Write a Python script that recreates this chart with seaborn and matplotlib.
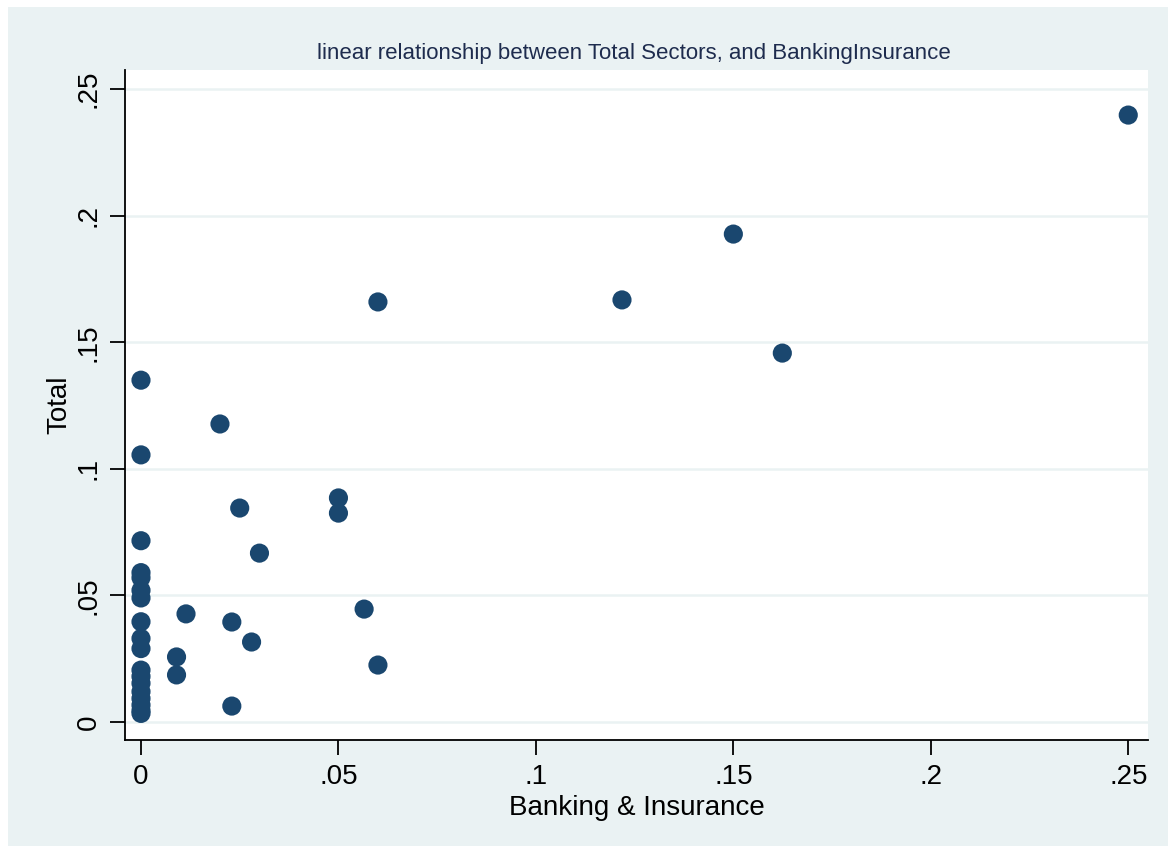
import matplotlib
matplotlib.use("Agg")
import matplotlib.pyplot as plt
from matplotlib import font_manager
from matplotlib.patches import Rectangle
import seaborn as sns
import pandas as pd

banking = [0, 0, 0, 0, 0, 0, 0, 0, 0, 0, 0, 0, 0, 0, 0, 0, 0, 0,
           0.009, 0.009, 0.0114, 0.020, 0.023, 0.023, 0.025, 0.028, 0.030,
           0.050, 0.050, 0.0565, 0.060, 0.060, 0.1218, 0.150, 0.1624, 0.250]
total = [0.135, 0.1055, 0.0716, 0.059, 0.057, 0.052, 0.049, 0.0396, 0.033, 0.029,
         0.0205, 0.018, 0.0153, 0.012, 0.0093, 0.0067, 0.0045, 0.0034,
         0.0257, 0.0186, 0.0427, 0.1177, 0.0395, 0.0063, 0.0845, 0.0316, 0.0667,
         0.0885, 0.0825, 0.0446, 0.0225, 0.1659, 0.1667, 0.1927, 0.1457, 0.2397]
ticks = [0, 0.05, 0.10, 0.15, 0.20, 0.25]
tick_labels = ["0", ".05", ".1", ".15", ".2", ".25"]

df = pd.DataFrame({"Banking & Insurance": banking, "Total": total})

sns.set_style("white")
names = {f.name for f in font_manager.fontManager.ttflist}
fam = "Liberation Sans Narrow" if "Liberation Sans Narrow" in names else "Liberation Sans"
plt.rcParams["font.family"] = [fam, "DejaVu Sans"]

bg = "#eaf2f3"
navy = "#1a476f"

fig = plt.figure(figsize=(11.73, 8.52), dpi=100)
fig.patch.set_facecolor("white")
fig.patches.append(Rectangle((8 / 1173, 1 - 846 / 852), (1168 - 8) / 1173, (846 - 7) / 852,
                             transform=fig.transFigure, facecolor=bg, edgecolor="none", zorder=-10))
ax = fig.add_axes([125 / 1173, 1 - 740 / 852, (1148 - 125) / 1173, (740 - 70) / 852])
ax.set_facecolor("white")

for t in ticks:
    ax.axhline(t, color=bg, lw=1.8, zorder=0)

sns.scatterplot(data=df, x="Banking & Insurance", y="Total", ax=ax, color=navy,
                s=190, edgecolor="none", zorder=3, legend=False)

ax.set_xlim(-0.00405, 0.2550)
ax.set_ylim(-0.0071, 0.2575)
ax.set_xticks(ticks)
ax.set_xticklabels(tick_labels)
ax.set_yticks(ticks)
ax.set_yticklabels(tick_labels, rotation=90, va="center")
for s in ["top", "right"]:
    ax.spines[s].set_visible(False)
for s in ["left", "bottom"]:
    ax.spines[s].set_color("black")
    ax.spines[s].set_linewidth(1.3)
ax.tick_params(axis="both", bottom=True, left=True, direction="out", length=11, width=1.3,
               color="black", labelsize=20, pad=6, labelcolor="black")
ax.set_xlabel("Banking & Insurance", fontsize=20, labelpad=4, color="black")
ax.set_ylabel("Total", fontsize=20, labelpad=2, color="black")
fig.text(634 / 1173, 1 - 53 / 852, "linear relationship between Total Sectors, and BankingInsurance",
         ha="center", va="center", fontsize=16, color="#1e2c4e")

fig.savefig("out.png", dpi=100, facecolor=fig.get_facecolor())
